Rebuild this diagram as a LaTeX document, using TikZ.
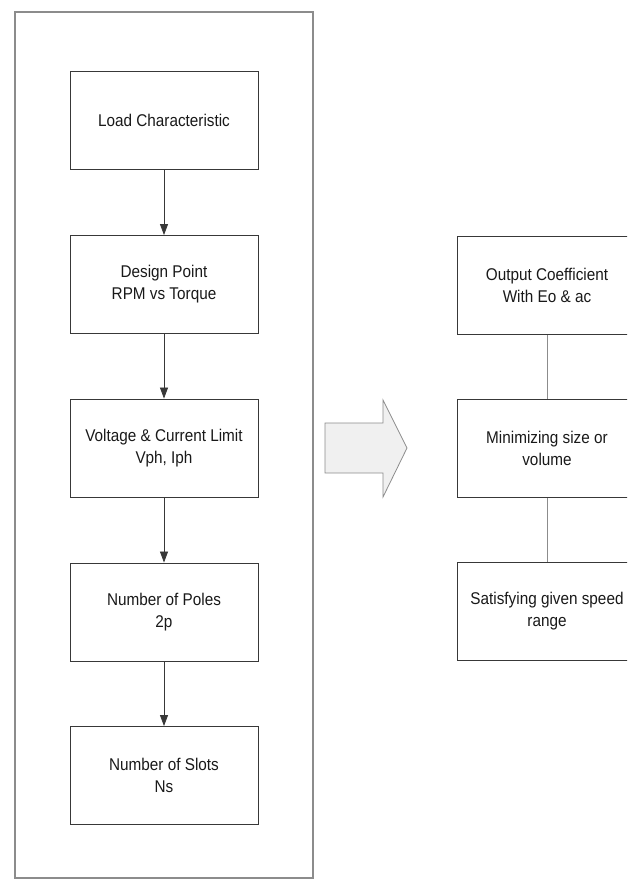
\documentclass[tikz,border=0pt]{standalone}
\usepackage{fontspec}
\setmainfont{Liberation Sans}[FakeStretch=0.9]
\usetikzlibrary{arrows.meta}
\definecolor{linec}{gray}{0.22}
\definecolor{framec}{gray}{0.55}
\definecolor{textc}{gray}{0.1}
\tikzset{
  box/.style={draw=linec, line width=0.9pt, minimum width=188pt, minimum height=98pt,
    inner sep=0pt, align=center, text=textc,
    font=\fontsize{17}{22}\selectfont},
  rbox/.style={box, minimum width=180pt},
  flow/.style={draw=linec, line width=0.8pt, -{Triangle[width=8pt,length=11pt]}},
  plain/.style={draw=framec, line width=0.8pt},
}
\begin{document}
\begin{tikzpicture}[x=1pt,y=-1pt]
\useasboundingbox (0,0) rectangle (627,880);
\clip (0,0) rectangle (627,880);
% outer frame
\draw[framec, line width=1.1pt] (15,12) rectangle (313,878);
% left column
\node[box] (n1) at (164,120) {Load Characteristic};
\node[box] (n2) at (164,284.5) {Design Point\\RPM vs Torque};
\node[box] (n3) at (164,448) {Voltage \& Current Limit\\Vph, Iph};
\node[box] (n4) at (164,612) {Number of Poles\\2p};
\node[box] (n5) at (164,775.5) {Number of Slots\\Ns};
\draw[flow] (n1) -- (n2);
\draw[flow] (n2) -- (n3);
\draw[flow] (n3) -- (n4);
\draw[flow] (n4) -- (n5);
% big arrow
\draw[draw=framec, line width=0.8pt, fill=gray!12]
  (325,423) -- (383,423) -- (383,400) -- (407,448) -- (383,497) -- (383,473) -- (325,473) -- cycle;
% right column
\node[rbox] (r1) at (547,285.5) {Output Coefficient\\With Eo \& ac};
\node[rbox] (r2) at (547,448.5) {Minimizing size or\\volume};
\node[rbox] (r3) at (547,611.5) {Satisfying given speed\\range};
\draw[plain] (r1) -- (r2);
\draw[plain] (r2) -- (r3);
\end{tikzpicture}
\end{document}
